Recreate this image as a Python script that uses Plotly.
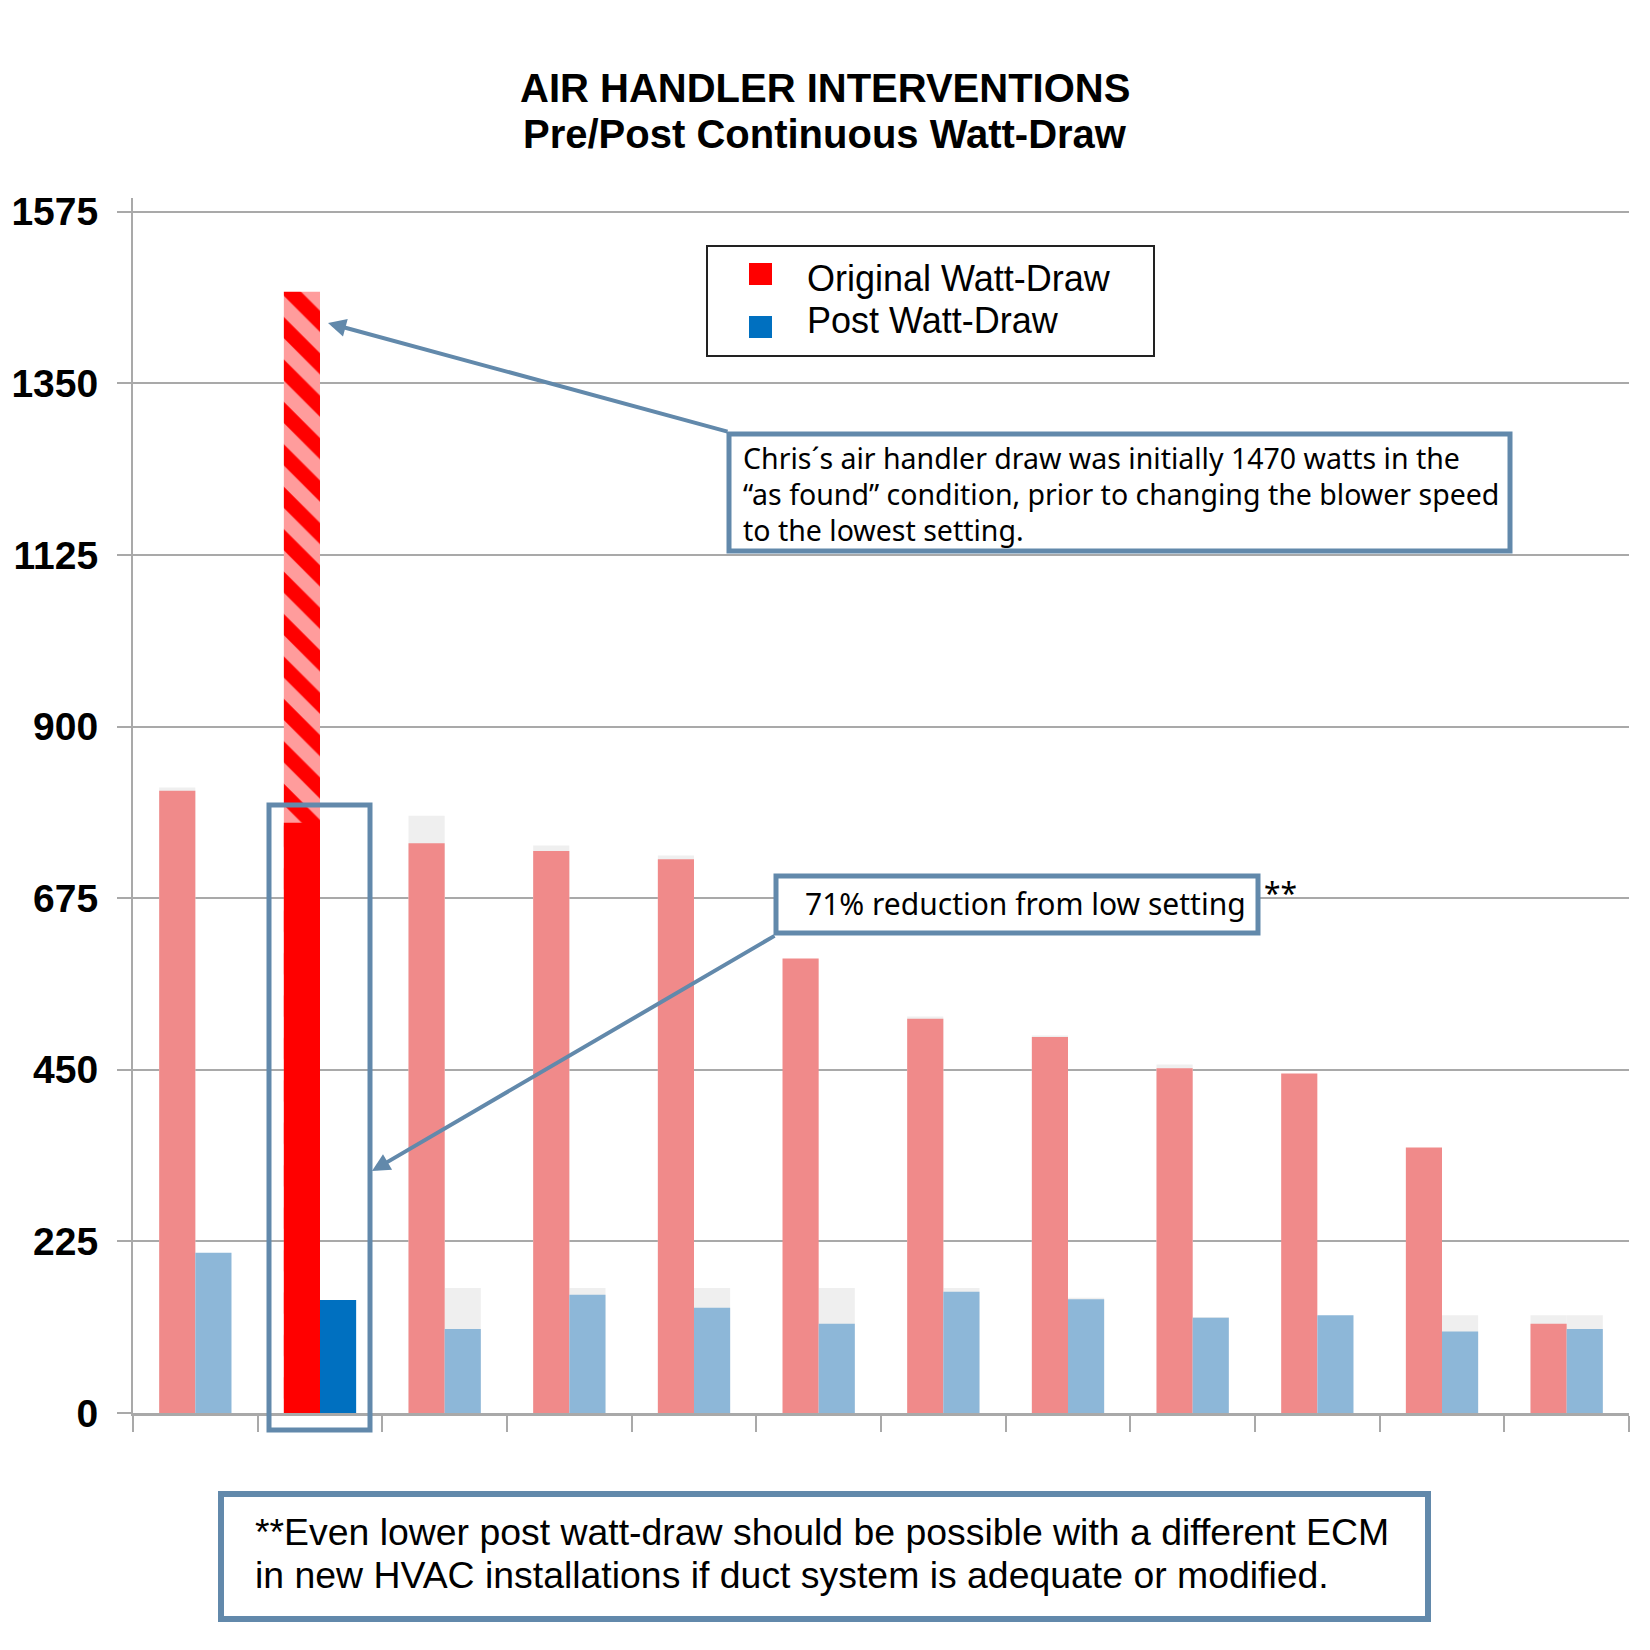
import plotly.graph_objects as go

# ---------------- data ----------------
categories = ["AH1", "AH2", "AH3", "AH4", "AH5", "AH6", "AH7", "AH8", "AH9", "AH10", "AH11", "AH12"]
series_names = ["Original Watt-Draw", "Post Watt-Draw"]
original_watts = [816, 774, 747, 737, 726, 596, 517, 493, 452, 445, 348, 117]
post_watts = [210, 148, 110, 155, 138, 117, 159, 149, 125, 128, 107, 110]
as_found_watts = [None, 1470, None, None, None, None, None, None, None, None, None, None]
ghost_original = [820, None, 783, 744, 731, None, 520, 495, 457, None, None, 128]
ghost_post = [None, None, 164, 164, 164, 164, 164, 151, 126, None, 128, 128]
y_ticks = [0, 225, 450, 675, 900, 1125, 1350, 1575]
title_lines = ["AIR HANDLER INTERVENTIONS", "Pre/Post Continuous Watt-Draw"]
callout_1 = ["Chris\u00b4s air handler draw was initially 1470 watts in the",
             "\u201cas found\u201d condition, prior to changing the blower speed",
             "to the lowest setting."]
callout_2 = "71% reduction from low setting"
footnote = ["**Even lower post watt-draw should be possible with a different ECM",
            "in new HVAC installations if duct system is adequate or modified."]
highlight_index = 1

# ---------------- styles ----------------
RED_FADED = "#f08a8a"
RED = "#ff0000"
BLUE_FADED = "#8db7d8"
BLUE = "#0070c0"
GHOST = "#efefef"
STEEL = "#6289ab"
GRID = "#a9a9a9"

OFF = 8  # page body margin of the html page
W, H = 1650 - OFF, 1650 - OFF
# plot area in page pixels
PL, PR, PT, PB = 133, 1629, 198, 1413
ML, MR, MT, MB = PL - OFF, W - (PR - OFF), PT - OFF, H - (PB - OFF)
PW, PH = PR - PL, PB - PT


def px(x):
    return (x - PL) / PW


def py(y):
    return (PB - y) / PH


BAR_W = 0.29
red_colors = [RED if i == highlight_index else RED_FADED for i in range(len(categories))]
blue_colors = [BLUE if i == highlight_index else BLUE_FADED for i in range(len(categories))]

fig = go.Figure()
fig.add_trace(go.Bar(x=categories, y=ghost_original, offset=-BAR_W, width=BAR_W,
                     marker=dict(color=GHOST, line=dict(width=0)), showlegend=False, hoverinfo="skip"))
fig.add_trace(go.Bar(x=categories, y=ghost_post, offset=0, width=BAR_W,
                     marker=dict(color=GHOST, line=dict(width=0)), showlegend=False, hoverinfo="skip"))
fig.add_trace(go.Bar(x=categories, y=as_found_watts, offset=-BAR_W, width=BAR_W,
                     marker=dict(color=RED, line=dict(width=0),
                                 pattern=dict(shape="\\", fgcolor="#ff9c9c", bgcolor=RED,
                                              size=30, solidity=0.5, fillmode="replace")),
                     name="As found", showlegend=False))
fig.add_trace(go.Bar(x=categories, y=original_watts, offset=-BAR_W, width=BAR_W,
                     marker=dict(color=red_colors, line=dict(width=0)),
                     name=series_names[0], showlegend=False))
fig.add_trace(go.Bar(x=categories, y=post_watts, offset=0, width=BAR_W,
                     marker=dict(color=blue_colors, line=dict(width=0)),
                     name=series_names[1], showlegend=False))

shapes = []
annotations = []

# title (two lines placed separately for tight line spacing)
for line, yc in zip(title_lines, [88, 134]):
    annotations.append(dict(xref="paper", yref="paper", x=px(825), y=py(yc), xanchor="center", yanchor="middle",
                            showarrow=False, text="<b>" + line + "</b>",
                            font=dict(family="Liberation Sans, Arial, sans-serif", size=40, color="black")))

# legend (drawn manually to match large square markers)
shapes.append(dict(type="rect", xref="paper", yref="paper", x0=px(707), x1=px(1154), y0=py(356), y1=py(246),
                   line=dict(color="#222222", width=2), fillcolor="white", layer="above"))
for name, col, ysq, ytx in [(series_names[0], RED, 274, 278), (series_names[1], BLUE, 327, 321)]:
    shapes.append(dict(type="rect", xref="paper", yref="paper", x0=px(749), x1=px(772), y0=py(ysq + 11),
                       y1=py(ysq - 11), line=dict(width=0), fillcolor=col, layer="above"))
    annotations.append(dict(xref="paper", yref="paper", x=px(805), y=py(ytx),
                            xanchor="left", yanchor="middle", showarrow=False, text=name,
                            font=dict(family="Liberation Sans, Arial, sans-serif", size=36, color="black")))

# highlight box around bar 2
shapes.append(dict(type="rect", xref="paper", yref="paper", x0=px(269), x1=px(370), y0=py(1430), y1=py(805),
                   line=dict(color=STEEL, width=5), layer="above"))

# arrows
annotations.append(dict(xref="paper", yref="paper", x=px(328), y=py(323), ax=729 - 328, ay=432 - 323,
                        text="", showarrow=True, arrowhead=2, arrowsize=0.9, arrowwidth=4, arrowcolor=STEEL))
annotations.append(dict(xref="paper", yref="paper", x=px(372), y=py(1171), ax=776 - 372, ay=935 - 1171,
                        text="", showarrow=True, arrowhead=2, arrowsize=0.9, arrowwidth=4, arrowcolor=STEEL))

# callout box 1
shapes.append(dict(type="rect", xref="paper", yref="paper", x0=px(729), x1=px(1510), y0=py(551), y1=py(434),
                   line=dict(color=STEEL, width=5), fillcolor="white", layer="above"))
for line, yc in zip(callout_1, [458, 494, 530]):
    annotations.append(dict(xref="paper", yref="paper", x=px(741), y=py(yc), xanchor="left", yanchor="middle",
                            showarrow=False, text=line,
                            font=dict(family="Noto Sans, sans-serif", size=28.5, color="black")))

# callout box 2
shapes.append(dict(type="rect", xref="paper", yref="paper", x0=px(776), x1=px(1258), y0=py(933), y1=py(876),
                   line=dict(color=STEEL, width=5), fillcolor="white", layer="above"))
annotations.append(dict(xref="paper", yref="paper", x=px(803), y=py(903), xanchor="left", yanchor="middle",
                        showarrow=False, text=callout_2,
                        font=dict(family="Noto Sans, sans-serif", size=30, color="black")))
annotations.append(dict(xref="paper", yref="paper", x=px(1262), y=py(892), xanchor="left", yanchor="middle",
                        showarrow=False, text="**",
                        font=dict(family="Noto Sans, sans-serif", size=30, color="black")))

# footer box
shapes.append(dict(type="rect", xref="paper", yref="paper", x0=px(221), x1=px(1428), y0=py(1619), y1=py(1494),
                   line=dict(color=STEEL, width=6), fillcolor="white", layer="above"))
for line, yc in zip(footnote, [1532, 1575]):
    annotations.append(dict(xref="paper", yref="paper", x=px(253), y=py(yc), xanchor="left", yanchor="middle",
                            showarrow=False, text=line,
                            font=dict(family="Liberation Sans, Arial, sans-serif", size=37.4, color="black")))

fig.update_layout(
    width=W, height=H,
    margin=dict(l=ML, r=MR, t=MT, b=MB, pad=0, autoexpand=False),
    paper_bgcolor="white", plot_bgcolor="white",
    barmode="overlay",
    xaxis=dict(type="category", categoryorder="array", categoryarray=categories,
               range=[-0.5, len(categories) - 0.5], automargin=False,
               showticklabels=False, tickson="boundaries", ticks="outside", ticklen=16, tickwidth=2,
               tickcolor=GRID, showline=True, linecolor=GRID, linewidth=3, showgrid=False, zeroline=False),
    yaxis=dict(range=[0, 1593], tickvals=y_ticks, ticktext=[str(v) for v in y_ticks], automargin=False,
               ticks="outside", ticklen=14, tickwidth=2, tickcolor=GRID, ticklabelstandoff=11,
               tickfont=dict(family="Liberation Sans, Arial, sans-serif", size=39, color="black", weight="bold"),
               showline=True, linecolor=GRID, linewidth=2, showgrid=True, gridcolor=GRID, gridwidth=2,
               zeroline=False),
    shapes=shapes,
    annotations=annotations,
    showlegend=False,
)

fig.write_html("out.html")
